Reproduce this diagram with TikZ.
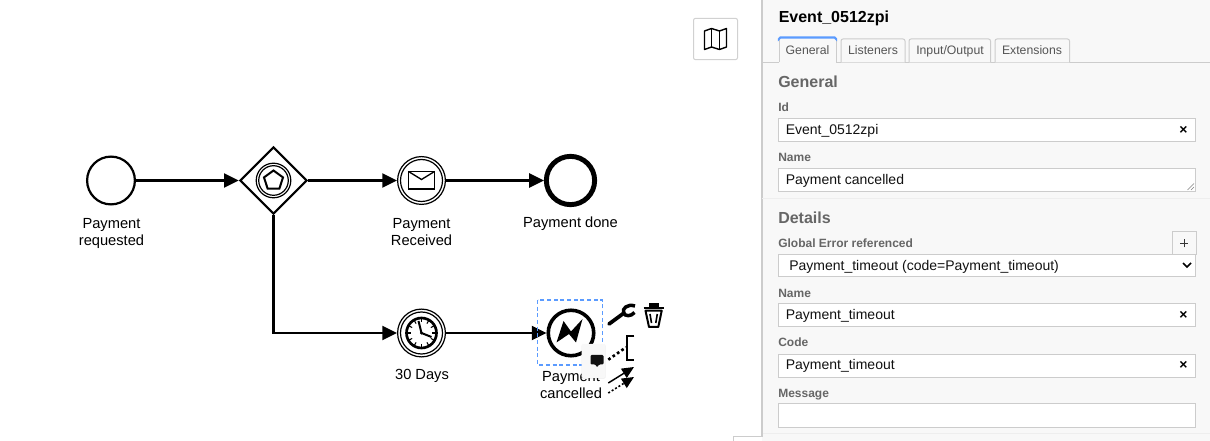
\documentclass[tikz,border=0pt]{standalone}
\usepackage{fontspec}
\setmainfont{Liberation Sans}
\usetikzlibrary{arrows.meta,shapes.geometric,shadows}
\definecolor{panel}{HTML}{F8F8F8}
\definecolor{edge}{HTML}{CCCCCC}
\definecolor{soft}{HTML}{EEEEEE}
\definecolor{head}{HTML}{666666}
\definecolor{tabtxt}{HTML}{555555}
\definecolor{blue}{HTML}{5B9BFF}
\definecolor{ink}{HTML}{111111}
\tikzset{
 x=.75pt,y=-.75pt,
 flow/.style={line width=1.6pt,draw=black,-{Triangle[length=11pt,width=10.5pt]}},
 startev/.style={circle,draw=black,line width=1.65pt,fill=white,minimum size=35.85pt,inner sep=0},
 endev/.style={circle,draw=black,line width=3.7pt,fill=white,minimum size=36.2pt,inner sep=0},
 interev/.style={circle,draw=black,line width=.9pt,fill=white,minimum size=35.85pt,inner sep=0},
 errev/.style={circle,draw=black,line width=2.7pt,fill=white,minimum size=34.1pt,inner sep=0},
 gate/.style={diamond,draw=black,line width=1.6pt,fill=white,minimum width=50.5pt,minimum height=50.5pt,inner sep=0,aspect=1},
 lab/.style={font=\fontsize{11pt}{12.8pt}\selectfont,align=center,inner sep=0,text=black,yshift=-.75pt},
 field/.style={draw=edge,fill=white,line width=.75pt,minimum width=313pt,anchor=north west,inner sep=0,rectangle},
 flabel/.style={font=\bfseries\fontsize{9pt}{11pt}\selectfont,text=head,anchor=west,inner sep=0,text height=6.5pt,text depth=1.5pt,yshift=-.75pt},
 ftext/.style={font=\fontsize{10.5pt}{12pt}\selectfont,text=ink,anchor=west,inner sep=0,text height=7.5pt,text depth=2pt,yshift=-.75pt},
 sect/.style={font=\bfseries\fontsize{12pt}{14pt}\selectfont,text=head,anchor=west,inner sep=0,text height=8.5pt,text depth=2pt,yshift=-.75pt},
 tabbox/.style={draw=edge,fill=panel,line width=.75pt,rounded corners=1.5pt},
 tabtext/.style={font=\fontsize{9.2pt}{11pt}\selectfont,text=tabtxt,inner sep=0,text height=7pt,text depth=2pt,yshift=-.75pt},
 clr/.style={font=\bfseries\fontsize{10.5pt}{12pt}\selectfont,text=black,inner sep=0},
}
\begin{document}
\begin{tikzpicture}
\useasboundingbox (0,0) rectangle (1210,441);
\fill[white] (0,0) rectangle (1210,441);

% --- map button
\node[draw=edge!90!white,fill=white,line width=.75pt,rounded corners=1.5pt,minimum width=33pt,minimum height=31pt,inner sep=0] (mapbtn) at (715.5,39) {};
\begin{scope}[shift={(mapbtn.center)},line width=1.05pt,line join=round]
 \draw (-11,-8) -- (-4,-10.5) -- (4,-8) -- (11,-10.5) -- (11,8) -- (4,10.5) -- (-4,8) -- (-11,10.5) -- cycle;
 \draw (-4,-10.5) -- (-4,8) (4,-8) -- (4,10.5);
\end{scope}

% --- BPMN nodes
\node[startev] (start) at (111,180.5) {};
\node[gate] (gw) at (273.5,180.5) {};
\node[interev] (msg) at (421.5,180.5) {};
\node[endev] (done) at (570.5,180.5) {};
\node[interev] (timer) at (421.5,333) {};
\node[errev] (err) at (571,333) {};

\node[lab] (l1) at (111.5,232.3) {Payment\\requested};
\node[lab] (l3) at (421.5,231) {Payment\\Received};
\node[lab] (l4) at (570.5,223) {Payment done};
\node[lab] (l5) at (422,375) {30 Days};
\node[lab] (l6) at (571,383.6) {Payment\\cancelled};

% --- gateway marker
\begin{scope}[shift={(gw.center)}]
 \draw[line width=.9pt] (0,0) circle (17.3);
 \draw[line width=.9pt] (0,0) circle (14.8);
 \draw[line width=1.5pt,line join=miter] (270:10) -- (198:10) -- (126:10) -- (54:10) -- (342:10) -- cycle;
\end{scope}

% --- message marker
\draw[line width=.9pt] (msg.center) circle (21);
\begin{scope}[shift={(msg.center)},line width=1pt,line join=miter]
 \draw (-13,-9) rectangle (13,8.5);
 \draw (-13,-9) -- (0,-1) -- (13,-9);
\end{scope}

% --- timer marker
\draw[line width=.9pt] (timer.center) circle (21);
\begin{scope}[shift={(timer.center)}]
 \draw[line width=2pt] (0,0) circle (15);
 \foreach \a in {0,30,...,330} \draw[line width=.8pt] (\a:10.8) -- (\a:14);
 \draw[line width=1.5pt] (-3,-12) -- (0,0) -- (10,4);
 \fill (0,0) circle (1.6);
\end{scope}

% --- error marker
\begin{scope}[shift={(err.center)}]
 \fill[black] (-14.5,9.5) -- (-7.5,-12) -- (0,-1.5) -- (11.5,-14) -- (5,9.5) -- (-2,1) -- cycle;
\end{scope}

% --- flows
\draw[flow] (start) -- (gw.west);
\draw[flow] (gw.east) -- (msg.west);
\draw[flow] (msg.east) -- (done.west);
\draw[flow] (gw.south) |- (timer.west);
\draw[flow] (timer.east) -- (err.west);

% --- selection outline
\coordinate (selA) at (537.7,300);
\coordinate (selB) at (602.7,365);
\draw[draw=blue,line width=1pt,dash pattern=on 3pt off 2pt] (selA) rectangle (selB);

% --- context pad: tools
\coordinate (wrA) at (609,324);
\coordinate (wrB) at (624,313);
\draw[line width=2.8pt,line cap=round] (wrA) -- (wrB);
\draw[line width=2.6pt] (635,306) .. controls (627,303.5) and (622,309) .. (623.5,312.5) .. controls (625,317) and (631,316.5) .. (634.5,312.5);
\node[inner sep=0] (trash) at (653.5,316) {};
\begin{scope}[shift={(trash.center)},line join=round]
 \draw[line width=1.7pt] (-10,-8) -- (10,-8);
 \fill (-5,-13) rectangle (5,-8);
 \draw[line width=1.5pt] (-8,-5.3) -- (-4.5,11) -- (4.8,11) -- (8.2,-5.3) -- cycle;
 \draw[line width=1.2pt] (-3.5,-2) -- (-2,7) (3.8,-2) -- (2.3,7);
\end{scope}
\coordinate (dotA) at (608.3,359.7);
\coordinate (dotB) at (626,347.3);
\draw[line width=2pt,dash pattern=on 2pt off 2pt] (dotA) -- (dotB);
\coordinate (brA) at (634.3,335.7);
\coordinate (brB) at (634.3,359.7);
\draw[line width=1.5pt] (brA) -- (626.7,335.7) -- (626.7,359.7) -- (brB);
\coordinate (arA) at (608.3,383);
\coordinate (arB) at (634,367);
\draw[line width=1.1pt,-{Triangle[length=9pt,width=8pt]}] (arA) -- (arB);
\coordinate (daA) at (608.3,393);
\coordinate (daB) at (634,377);
\draw[line width=1.2pt,dash pattern=on 1.5pt off 1.5pt,-{Triangle[length=9pt,width=8pt]}] (daA) -- (daB);

% --- comment popup
\node[draw=none,fill=panel,drop shadow={shadow xshift=0pt,shadow yshift=-.5pt,opacity=.15},minimum width=18pt,minimum height=25.5pt,inner sep=0,rectangle,rounded corners=1pt] (popup) at (593.5,361) {};
\begin{scope}[shift={(popup.center)}]
 \fill[rounded corners=.8pt,fill=ink] (-3,-6) -- (10,-6) -- (10,3.5) -- (5.5,3.5) -- (3.5,6.5) -- (2,3.5) -- (-3,3.5) -- cycle;
\end{scope}

% --- properties panel
\path[fill=panel] (762,0) rectangle (1210,441);
\coordinate (pTop) at (762,0);
\coordinate (pBot) at (762,436.5);
\coordinate (pFoot) at (733,436.5);
\draw[draw=edge,line width=.9pt] (pTop) -- (pBot) -- (pFoot);
\draw[draw=edge,line width=.75pt] (pFoot) -- +(0,5);
\node[font=\bfseries\fontsize{12pt}{14pt}\selectfont,anchor=west,inner sep=0,text=black] (title) at (778.5,18.5) {Event\_0512zpi};

\coordinate (tabL) at (762,62.5);
\coordinate (tabR) at (1210,62.5);
\draw[draw=edge,line width=.75pt] (tabL) -- (tabR);
\draw[tabbox] (841,62.5) -- (841,39) -- (905,39) -- (905,62.5);
\draw[tabbox] (909,62.5) -- (909,39) -- (990.5,39) -- (990.5,62.5);
\draw[tabbox] (995,62.5) -- (995,39) -- (1069.5,39) -- (1069.5,62.5);
\fill[panel] (779,38) rectangle (836,63.5);
\draw[draw=edge,line width=.75pt] (779,62.5) -- (779,38) (836,38) -- (836,62.5);
\draw[draw=blue,line width=1.6pt,rounded corners=1pt] (779,38.5) -- (779,37.5) -- (836,37.5) -- (836,38.5);
\node[tabtext] (t1) at (807.5,50.5) {General};
\node[tabtext] (t2) at (873,50.5) {Listeners};
\node[tabtext] (t3) at (950,50.5) {Input/Output};
\node[tabtext] (t4) at (1032,50.5) {Extensions};

\node[sect] (s1) at (778,82) {General};
\node[flabel] (f1) at (778,107) {Id};
\node[field,minimum height=17.2pt] (b1) at (778,118.5) {};
\node[ftext] (v1) at (785.5,130) {Event\_0512zpi};
\node[clr] (x1) at (1183.5,130) {×};

\node[flabel] (f2) at (778,157.5) {Name};
\node[field,minimum height=17.2pt] (b2) at (778,168.5) {};
\node[ftext] (v2) at (785.5,180) {Payment cancelled};
\coordinate (gripA) at (1187.5,190);
\coordinate (gripB) at (1194,183.5);
\draw[draw=gray,line width=.4pt] (gripA) -- (gripB) (1191,190) -- (1194,187);

\coordinate (sepA) at (762,198.5);
\coordinate (sepB) at (1210,198.5);
\draw[draw=soft,line width=.75pt] (sepA) -- (sepB);
\node[sect] (s2) at (778,218) {Details};

\node[flabel] (f3) at (778,243.5) {Global Error referenced};
\node[draw=edge,fill=panel,line width=.75pt,minimum width=17.8pt,minimum height=17pt,inner sep=0,anchor=north west] (plus) at (1172,231.5) {};
\draw[line width=1.2pt,draw=ink!85!white] ([xshift=-3pt]plus.center) -- ([xshift=3pt]plus.center) ([yshift=-3pt]plus.center) -- ([yshift=3pt]plus.center);
\node[field,minimum height=16.5pt] (b3) at (778,254) {};
\node[ftext] (v3) at (789,266) {Payment\_timeout (code=Payment\_timeout)};
\coordinate (chev) at (1187,265);
\draw[line width=1.3pt,line join=miter] ([shift={(-4,-2)}]chev) -- ([shift={(0,2)}]chev) -- ([shift={(4,-2)}]chev);

\node[flabel] (f4) at (778,293) {Name};
\node[field,minimum height=17.2pt] (b4) at (778,303.5) {};
\node[ftext] (v4) at (785.5,315) {Payment\_timeout};
\node[clr] (x4) at (1183.5,315) {×};

\node[flabel] (f5) at (778,342.5) {Code};
\node[field,minimum height=17pt] (b5) at (778,354) {};
\node[ftext] (v5) at (785.5,365) {Payment\_timeout};
\node[clr] (x5) at (1183.5,365) {×};

\node[flabel] (f6) at (778,393) {Message};
\node[field,minimum height=17.5pt] (b6) at (778,403.5) {};

\coordinate (sepC) at (762.5,433.5);
\coordinate (sepD) at (1210,433.5);
\draw[draw=soft,line width=.75pt] (sepC) -- (sepD);
\end{tikzpicture}
\end{document}
